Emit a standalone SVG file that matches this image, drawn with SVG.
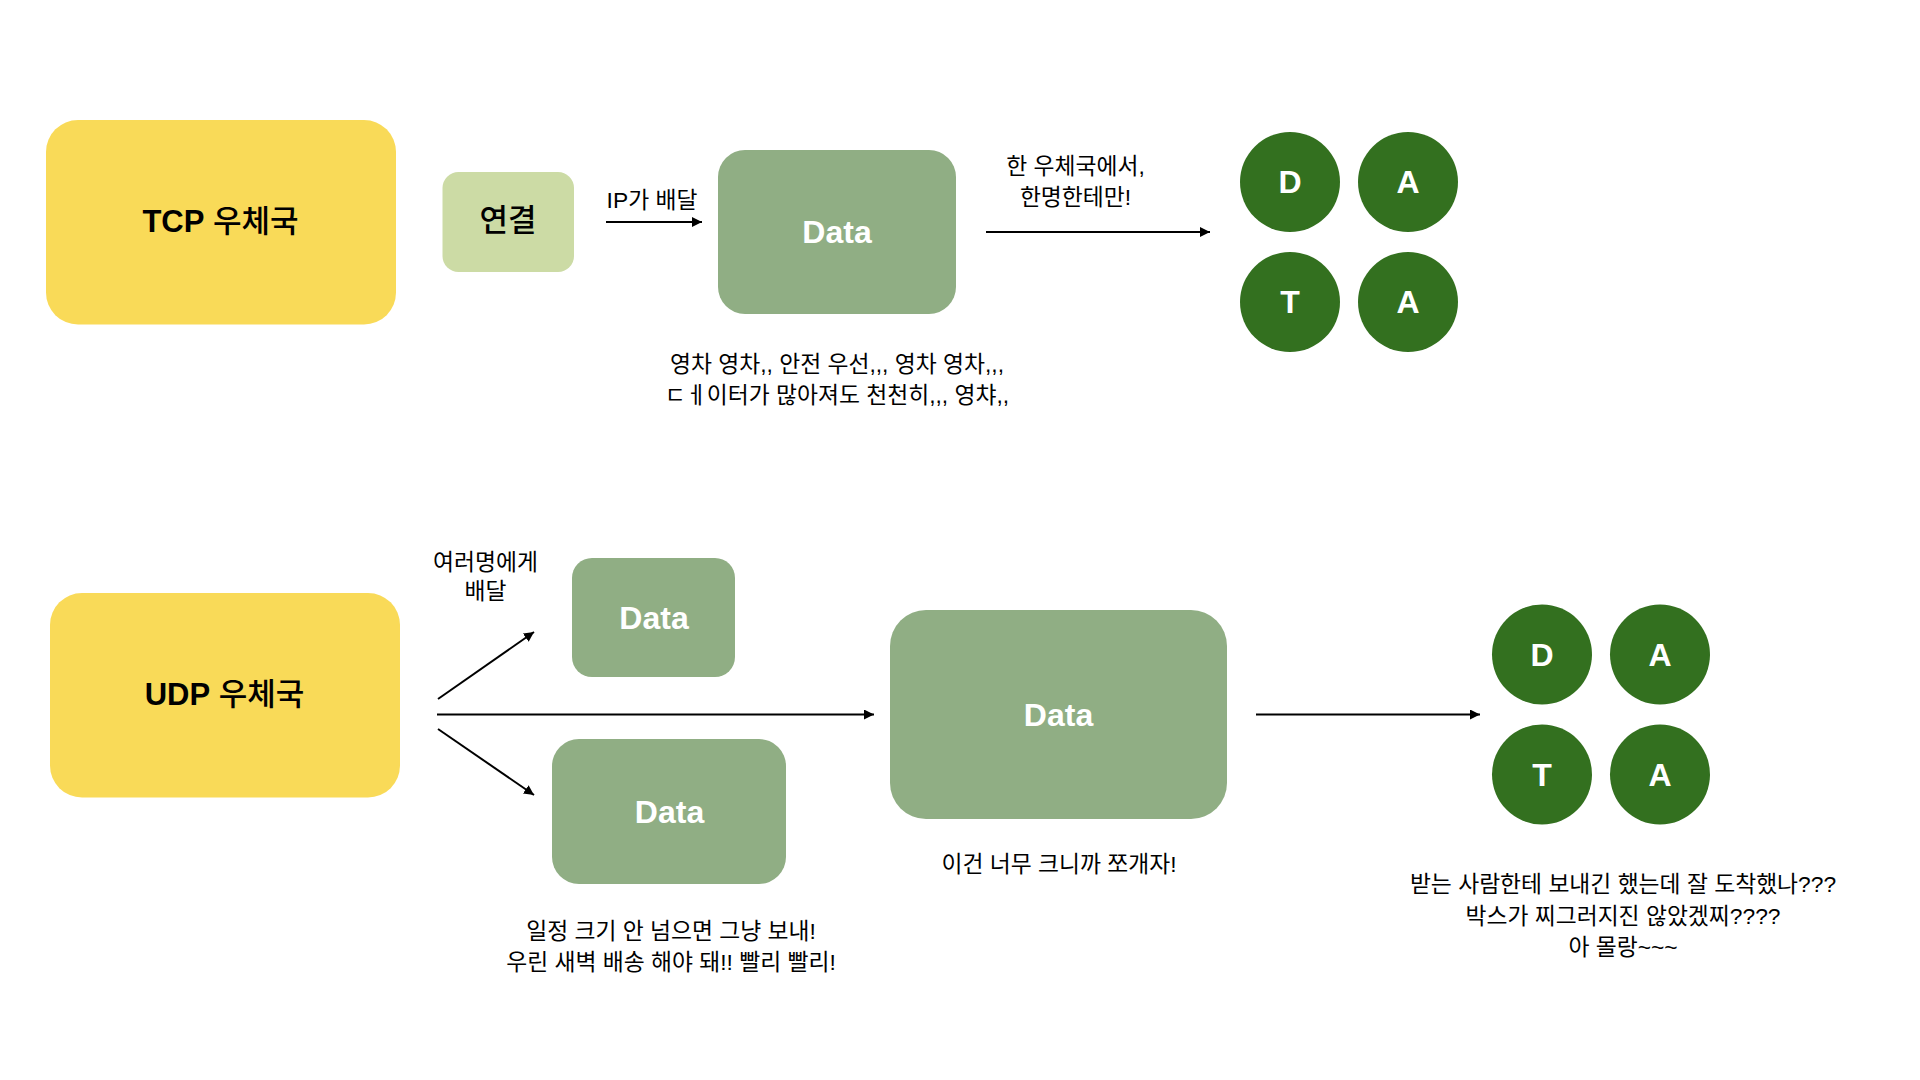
<svg xmlns="http://www.w3.org/2000/svg" width="1920" height="1080" viewBox="0 0 1920 1080">
<style>
text{font-family:"Liberation Sans","Noto Sans CJK KR",sans-serif;text-anchor:middle}
.t{font-size:22.800px;fill:#000}
.b{font-size:31px;font-weight:500;fill:#000}
.b tspan{font-weight:700}
.d{font-size:32px;font-weight:700;fill:#fff}
.y{fill:#f9da58}.g{fill:#90ae84}.c{fill:#33701f}.l{fill:#ccdba5}
.a{stroke:#000;stroke-width:2;fill:none;marker-end:url(#m)}
</style>
<defs><marker id="m" markerUnits="userSpaceOnUse" markerWidth="12" markerHeight="12" refX="10" refY="5" orient="auto"><path d="M0 0L10 5L0 10Z" fill="#000"/></marker></defs>
<rect width="1920" height="1080" fill="#fff"/>
<g id="connectors">
<line class="a" x1="606" y1="222" x2="702" y2="222"/>
<line class="a" x1="986" y1="232" x2="1210" y2="232"/>
<line class="a" x1="438" y1="699" x2="534" y2="632"/>
<line class="a" x1="437" y1="714.500" x2="874" y2="714.500"/>
<line class="a" x1="438" y1="729" x2="534" y2="795"/>
<line class="a" x1="1256" y1="714.500" x2="1480" y2="714.500"/>
</g>
<g id="tcp"><rect class="y" x="46" y="120" width="350" height="204.500" rx="32"/><text class="b" x="220.500" y="232"><tspan>TCP</tspan> 우체국</text></g>
<g id="conn"><rect class="l" x="442.500" y="172" width="131.500" height="100" rx="16"/><text class="b" x="508" y="231">연결</text></g>
<g id="data1"><rect class="g" x="718" y="150" width="238" height="164" rx="27"/><text class="d" x="837" y="243">Data</text></g>
<g id="c1"><circle class="c" cx="1290" cy="182" r="50"/><text class="d" x="1290" y="193">D</text></g>
<g id="c2"><circle class="c" cx="1408" cy="182" r="50"/><text class="d" x="1408" y="193">A</text></g>
<g id="c3"><circle class="c" cx="1290" cy="302" r="50"/><text class="d" x="1290" y="313">T</text></g>
<g id="c4"><circle class="c" cx="1408" cy="302" r="50"/><text class="d" x="1408" y="313">A</text></g>
<g id="udp"><rect class="y" x="50" y="593" width="350" height="204.500" rx="32"/><text class="b" x="224.500" y="705"><tspan>UDP</tspan> 우체국</text></g>
<g id="data2"><rect class="g" x="572" y="558" width="163" height="119" rx="20"/><text class="d" x="654" y="629">Data</text></g>
<g id="data3"><rect class="g" x="552" y="739" width="234" height="145" rx="27"/><text class="d" x="669.500" y="823">Data</text></g>
<g id="data4"><rect class="g" x="890" y="610" width="337" height="209" rx="36"/><text class="d" x="1058.500" y="726">Data</text></g>
<g id="c5"><circle class="c" cx="1542" cy="654.500" r="50"/><text class="d" x="1542" y="665.500">D</text></g>
<g id="c6"><circle class="c" cx="1660" cy="654.500" r="50"/><text class="d" x="1660" y="665.500">A</text></g>
<g id="c7"><circle class="c" cx="1542" cy="774.500" r="50"/><text class="d" x="1542" y="785.500">T</text></g>
<g id="c8"><circle class="c" cx="1660" cy="774.500" r="50"/><text class="d" x="1660" y="785.500">A</text></g>
<g id="labels">
<text class="t" x="652" y="207.500">IP가 배달</text>
<text class="t" x="1075.500" y="174">한 우체국에서,</text>
<text class="t" x="1075.500" y="205">한명한테만!</text>
<text class="t" x="837" y="372">영차 영차,, 안전 우선,,, 영차 영차,,,</text>
<text class="t" x="837" y="403">ㄷㅔ이터가 많아져도 천천히,,, 영챠,,</text>
<text class="t" x="485.500" y="570">여러명에게</text>
<text class="t" x="485.500" y="599">배달</text>
<text class="t" x="671" y="939">일정 크기 안 넘으면 그냥 보내!</text>
<text class="t" x="671" y="970">우린 새벽 배송 해야 돼!! 빨리 빨리!</text>
<text class="t" x="1059" y="872">이건 너무 크니까 쪼개자!</text>
<text class="t" x="1623" y="892">받는 사람한테 보내긴 했는데 잘 도착했나???</text>
<text class="t" x="1623" y="923.500">박스가 찌그러지진 않았겠찌????</text>
<text class="t" x="1623" y="954.500">아 몰랑~~~</text>
</g>
</svg>
